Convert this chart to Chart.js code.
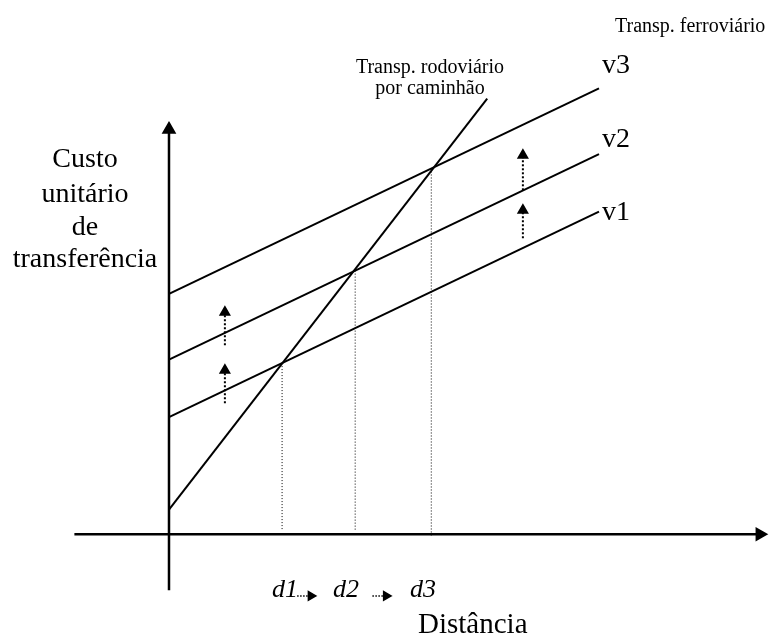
<!DOCTYPE html>
<html>
<head>
<meta charset="utf-8">
<script src="https://cdn.jsdelivr.net/npm/chart.js@4.4.1/dist/chart.umd.min.js"></script>
<style>
    body { margin: 0; background: #fff; }
    #wrap { width: 771px; height: 637px; position: relative; }
</style>
</head>
<body>
<div id="wrap"><canvas id="custo"></canvas></div>
<script>
// distance units along x, cost units along y
const distances = [2.63, 4.33, 6.1];           // d1, d2, d3
const distLabels = ['d1', 'd2', 'd3'];
const lineLabels = ['v1', 'v2', 'v3'];
const railStart = [5.7, 8.5, 11.7];             // cost at distance 0
const railEnd = [15.7, 18.5, 21.7];             // cost at distance 10
const railEndX = 10;
const roadX = [0, 7.4];
const roadY = [1.2, 21.2];
const dropTops = [8.33, 12.83, 17.8];           // where the dotted guides meet the lines
const shiftX = [1.3, 1.3, 8.23, 8.23];          // dotted arrows v1->v2->v3
const shiftFrom = [6.37, 9.2, 14.4, 16.74];
const shiftTo = [7.98, 10.8, 15.77, 18.44];
const yLabel = ['Custo', 'unitário', 'de', 'transferência'];

const datasets = [];

// axes with arrow heads
datasets.push({
    data: [{x: -2.2, y: 0}, {x: 13.74, y: 0}],
    borderColor: '#000', backgroundColor: '#000', borderWidth: 2.5,
    pointStyle: 'triangle', pointRadius: [0, 6], pointRotation: 90
});
datasets.push({
    data: [{x: 0, y: -2.72}, {x: 0, y: 19.7}],
    borderColor: '#000', backgroundColor: '#000', borderWidth: 2.5,
    pointStyle: 'triangle', pointRadius: [0, 6], pointRotation: 0
});

// rail cost lines v1, v2, v3
for (let i = 0; i < railStart.length; i++) {
    datasets.push({
        data: [{x: 0, y: railStart[i]}, {x: railEndX, y: railEnd[i]}],
        borderColor: '#000', borderWidth: 2, pointRadius: 0
    });
}

// road transport line
datasets.push({
    data: [{x: roadX[0], y: roadY[0]}, {x: roadX[1], y: roadY[1]}],
    borderColor: '#000', borderWidth: 2, pointRadius: 0
});

// dotted guides down to the distance axis
for (let i = 0; i < distances.length; i++) {
    datasets.push({
        data: [{x: distances[i], y: dropTops[i]}, {x: distances[i], y: i == 2 ? -0.1 : 0.2}],
        borderColor: '#000', borderWidth: 1, borderDash: [1, 2], pointRadius: 0
    });
}

// dotted upward arrows
for (let i = 0; i < shiftX.length; i++) {
    datasets.push({
        data: [{x: shiftX[i], y: shiftFrom[i]}, {x: shiftX[i], y: shiftTo[i]}],
        borderColor: '#000', backgroundColor: '#000', borderWidth: 2, borderDash: [2, 2],
        pointStyle: 'triangle', pointRadius: [0, 5], pointRotation: 0
    });
}

// small dotted arrows between d labels
const smallArrows = [[2.98, 3.3], [4.73, 5.05]];
smallArrows.forEach(a => {
    datasets.push({
        data: [{x: a[0], y: -3.0}, {x: a[1], y: -3.0}],
        borderColor: '#000', backgroundColor: '#000', borderWidth: 1.5, borderDash: [1.5, 1.5],
        pointStyle: 'triangle', pointRadius: [0, 5], pointRotation: 90
    });
});

const textPlugin = {
    id: 'texts',
    afterDatasetsDraw(chart) {
        const ctx = chart.ctx;
        const xs = chart.scales.x;
        ctx.save();
        ctx.fillStyle = '#000';
        ctx.textBaseline = 'alphabetic';

        ctx.font = '28px "Liberation Serif"';
        ctx.textAlign = 'center';
        const yBase = [167, 202, 235, 267];
        yLabel.forEach((t, i) => ctx.fillText(t, 85, yBase[i]));

        ctx.textAlign = 'left';
        const vBase = [220, 147, 73];
        lineLabels.forEach((t, i) => ctx.fillText(t, xs.getPixelForValue(railEndX) + 3, vBase[i]));

        ctx.font = '20px "Liberation Serif"';
        ctx.fillText('Transp. ferroviário', 615, 32);
        ctx.textAlign = 'center';
        ctx.fillText('Transp. rodoviário', 430, 73);
        ctx.fillText('por caminhão', 430, 94);

        ctx.font = 'italic 26px "Liberation Serif"';
        ctx.textAlign = 'left';
        const dLeft = [272, 333, 410];
        distLabels.forEach((t, i) => ctx.fillText(t, dLeft[i], 597));

        ctx.font = '29px "Liberation Serif"';
        ctx.fillText('Distância', 418, 633);
        ctx.restore();
    }
};

new Chart(document.getElementById('custo'), {
    type: 'line',
    data: { datasets: datasets },
    options: {
        responsive: true,
        maintainAspectRatio: false,
        animation: false,
        layout: { padding: 0, autoPadding: false },
        plugins: { legend: { display: false }, tooltip: { enabled: false } },
        scales: {
            x: { type: 'linear', min: -3.93, max: 14.0, display: false },
            y: { type: 'linear', min: -5.0, max: 26.0, display: false }
        }
    },
    plugins: [textPlugin]
});
</script>
</body>
</html>
